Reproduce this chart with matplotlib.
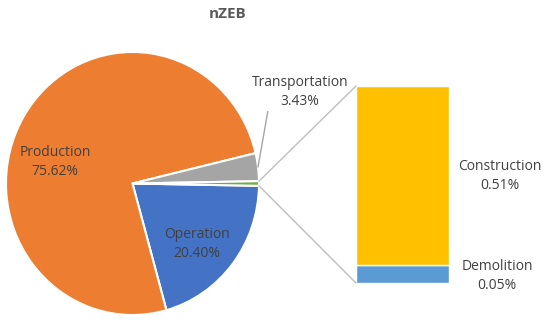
import numpy as np
import matplotlib.pyplot as plt
from matplotlib.patches import ConnectionPatch

plt.rcParams['font.family'] = ['Open Sans', 'DejaVu Sans']

# pie data (clockwise from the right)
pie_labels = ['Operation', 'Production', 'Transportation', 'Other']
pie_values = [20.40, 75.62, 3.43, 0.56]
pie_colors = ['#4472C4', '#ED7D31', '#A5A5A5', '#70AD47']

# bar data (bottom to top)
bar_labels = ['Demolition', 'Construction']
bar_values = [0.05, 0.51]
bar_colors = ['#5B9BD5', '#FFC000']

W, H = 550, 322
fig = plt.figure(figsize=(W / 100, H / 100), dpi=100)

# pie axes: centre (132.5, 183.5) px, radii 126.5 x 131.5 px
cx, cy, rx, ry = 132.5, 183.5, 126.5, 131.5
ax1 = fig.add_axes([(cx - rx) / W, (H - cy - ry) / H, 2 * rx / W, 2 * ry / H])
start = -pie_values[-1] / 100 * 360 / 2
wedges, _ = ax1.pie(pie_values, colors=pie_colors, startangle=start, counterclock=False,
                    wedgeprops=dict(edgecolor='white', linewidth=1.5))
ax1.set_xlim(-1, 1)
ax1.set_ylim(-1, 1)
ax1.set_aspect('auto')

txt = dict(color='#404040', fontsize=10, ha='center', va='center', linespacing=1.3)

def px(x, y):
    # figure pixel (from top-left) -> pie data coords
    return (x - cx) / rx, (cy - y) / ry

ax1.text(*px(55, 162), 'Production\n75.62%', **txt)
ax1.text(*px(197, 244), 'Operation\n20.40%', **txt)

# transportation label with leader line
tw = wedges[2]
mid = np.deg2rad((tw.theta1 + tw.theta2) / 2)
ax1.annotate('Transportation\n3.43%', xy=(np.cos(mid), np.sin(mid)),
             xytext=px(300, 92), annotation_clip=False,
             arrowprops=dict(arrowstyle='-', color='#A5A5A5', lw=1, shrinkA=0, shrinkB=0,
                             relpos=(0.25, 0.27),
                             connectionstyle='angle,angleA=0,angleB=80,rad=0'),
             **txt)

# bar axes
bx0, bx1, by0, by1 = 356, 449, 86, 283
ax2 = fig.add_axes([bx0 / W, (H - by1) / H, (bx1 - bx0) / W, (by1 - by0) / H])
bottom = 0
for v, c in zip(bar_values, bar_colors):
    ax2.bar(0, v, width=1, bottom=bottom, color=c, edgecolor='white', linewidth=1)
    bottom += v
ax2.set_xlim(-0.5, 0.5)
ax2.set_ylim(0, sum(bar_values))
ax2.axis('off')

ax2.text(1.05, 0.304, 'Construction\n0.51%', transform=ax2.transData, clip_on=False, **txt)
ax2.text(1.02, 0.020, 'Demolition\n0.05%', transform=ax2.transData, clip_on=False, **txt)

# connector lines from the "Other" wedge to the bar
ow = wedges[3]
for ang, yb in [(ow.theta2, sum(bar_values)), (ow.theta1, 0)]:
    a = np.deg2rad(ang)
    con = ConnectionPatch(xyA=(np.cos(a), np.sin(a)), coordsA=ax1.transData,
                          xyB=(-0.5, yb), coordsB=ax2.transData,
                          color='#BFBFBF', lw=1)
    fig.add_artist(con)

fig.text(228 / W, 1 - 14 / H, 'nZEB', ha='center', va='center', fontsize=11,
         fontweight='bold', color='#595959')

fig.savefig('out.png', dpi=100)
